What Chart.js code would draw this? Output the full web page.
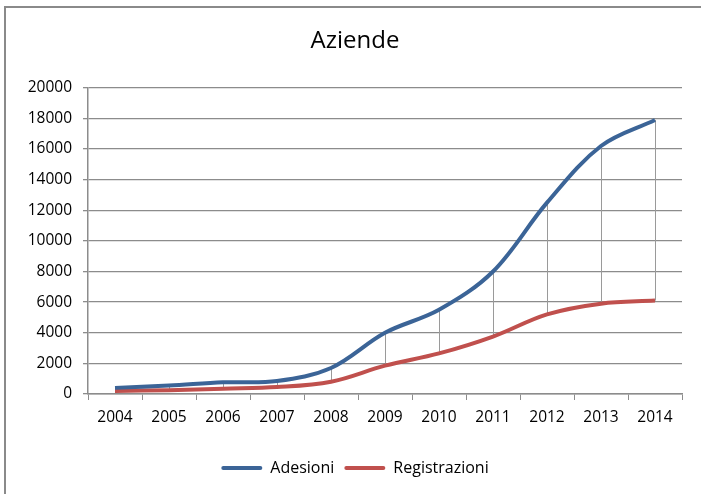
<!DOCTYPE html>
<html>
<head>
<meta charset="utf-8">
<script src="https://cdn.jsdelivr.net/npm/chart.js@4/dist/chart.umd.min.js"></script>
<style>
  body { margin: 0; background: #fff; }
  #wrap { position: relative; width: 701px; height: 494px; overflow: hidden; }
  #frame { position: absolute; left: 4px; top: 6px; width: 800px; height: 600px; border: 1px solid #8a8a8a; border-width: 2px 0 0 2px; }
  canvas { position: absolute; left: 0; top: 0; }
</style>
</head>
<body>
<div id="wrap">
  <div id="frame"></div>
  <canvas id="chart" width="701" height="494"></canvas>
</div>
<script>
// DATA
const years = ["2004", "2005", "2006", "2007", "2008", "2009", "2010", "2011", "2012", "2013", "2014"];
const adesioni = [400, 550, 760, 850, 1700, 4000, 5500, 8000, 12500, 16200, 17900];
const registrazioni = [200, 250, 350, 450, 800, 1850, 2650, 3750, 5200, 5900, 6100];
const yMax = 20000;
const yStep = 2000;

const FONT = "'Open Sans', sans-serif";
const GRID = "#8c8c8c";

// drop lines between the two series
const dropLines = {
  id: "dropLines",
  beforeDatasetsDraw(chart) {
    const top = chart.getDatasetMeta(0).data;
    const bottom = chart.getDatasetMeta(1).data;
    const ctx = chart.ctx;
    ctx.save();
    ctx.strokeStyle = "#9a9a9a";
    ctx.lineWidth = 1;
    ctx.beginPath();
    top.forEach((p, i) => {
      const x = Math.round(p.x) + 0.5;
      ctx.moveTo(x, p.y);
      ctx.lineTo(x, bottom[i].y);
    });
    ctx.stroke();
    ctx.restore();
  }
};

new Chart(document.getElementById("chart"), {
  type: "line",
  data: {
    labels: years,
    datasets: [
      {
        label: "Adesioni",
        data: adesioni,
        borderColor: "#3b6497",
        backgroundColor: "#3b6497",
        borderWidth: 4,
        pointRadius: 0,
        tension: 0.35
      },
      {
        label: "Registrazioni",
        data: registrazioni,
        borderColor: "#c0504d",
        backgroundColor: "#c0504d",
        borderWidth: 4,
        pointRadius: 0,
        tension: 0.35
      }
    ]
  },
  options: {
    responsive: false,
    animation: false,
    layout: { padding: { left: 28, right: 19, top: 0, bottom: 8 } },
    plugins: {
      title: {
        display: true,
        text: "Aziende",
        color: "#000",
        font: { family: FONT, size: 24, weight: "normal" },
        padding: { top: 27, bottom: 32 }
      },
      legend: {
        position: "bottom",
        labels: {
          color: "#000",
          font: { family: FONT, size: 16 },
          boxWidth: 41,
          boxHeight: 4,
          padding: 10,
          generateLabels(chart) {
            const items = Chart.defaults.plugins.legend.labels.generateLabels(chart);
            items.forEach(it => {
              it.fillStyle = it.strokeStyle;
              it.lineWidth = 0;
              it.borderRadius = 2;
            });
            return items;
          }
        }
      },
      tooltip: { enabled: false }
    },
    scales: {
      x: {
        offset: true,
        grid: { offset: true, drawOnChartArea: false, drawTicks: true, tickLength: 6, color: GRID },
        border: { color: GRID, width: 1.5 },
        ticks: { color: "#000", font: { family: FONT, size: 15.5 }, padding: 8, maxRotation: 0 },
        afterFit(scale) { scale.height = 56; }
      },
      y: {
        min: 0,
        max: yMax,
        grid: { color: GRID, lineWidth: 1.3, drawTicks: true, tickLength: 5 },
        border: { color: GRID, width: 1.5 },
        ticks: {
          stepSize: yStep,
          color: "#000",
          font: { family: FONT, size: 15.5 },
          padding: 11,
          callback: v => String(v)
        },
        afterFit(scale) { scale.width = 60; }
      }
    }
  },
  plugins: [dropLines]
});
</script>
</body>
</html>
